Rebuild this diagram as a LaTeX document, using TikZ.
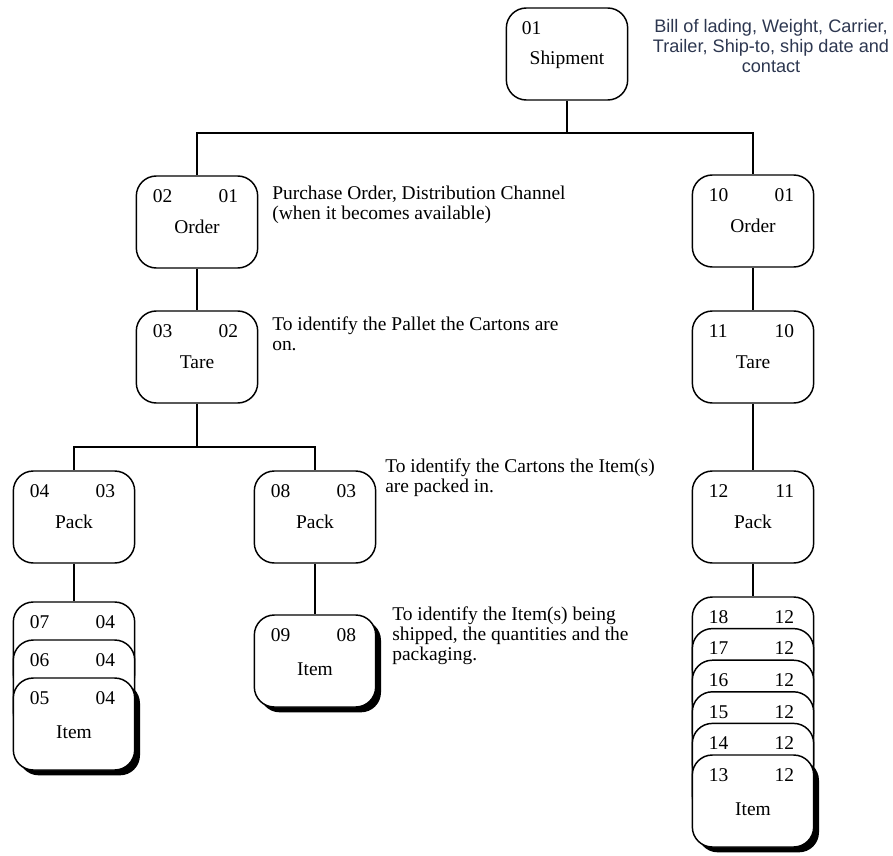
\documentclass[tikz,border=0pt]{standalone}
\usepackage{fontspec}
\setmainfont{Liberation Serif}
\newfontfamily\notesans{Liberation Sans}
\usetikzlibrary{shadows}

\definecolor{notecol}{RGB}{45,55,80}

\tikzset{
  rec/.style={draw, line width=1.1pt, rounded corners=15pt, fill=white,
    minimum width=91pt, minimum height=69pt, inner sep=0pt,
    text height=16.5pt, text depth=0pt},
  itm/.style={rec, text height=22pt,
    general shadow={fill=black, shadow xshift=4pt, shadow yshift=-4pt}},
  num/.style={inner sep=0pt},
  note/.style={align=left, anchor=north west, inner sep=0pt},
  link/.style={line width=1.1pt},
}

% corner numbers of a box
\newcommand{\nums}[3]{%
  \node[num, anchor=base west] (#1-l) at ([shift={(17,27)}]#1.north west) {#2};
  \node[num, anchor=base east] (#1-r) at ([shift={(-20,27)}]#1.north east) {#3};
}

\begin{document}
\begin{tikzpicture}[x=0.75pt, y=-0.75pt, font=\fontsize{14.6}{15}\selectfont]
\useasboundingbox (0,0) rectangle (893,856);

% shipment
\node[rec] (ship) at (567,54) {Shipment};
\node[num, anchor=base west] (ship-l) at ([shift={(16,27)}]ship.north west) {01};
\node[anchor=north, align=center, inner sep=0pt, text=notecol,
  font=\notesans\fontsize{13.6}{15}\selectfont] (shipnote) at (771,19)
  {Bill of lading, Weight, Carrier,\\Trailer, Ship-to, ship date and\\contact};

% orders
\node[rec] (ord1) at (197,222) {Order};
\nums{ord1}{02}{01}
\node[rec] (ord2) at (753,221) {Order};
\nums{ord2}{10}{01}
\node[note] (ordnote) at (272,186) {Purchase Order, Distribution Channel\\(when it becomes available)};

% tares
\node[rec] (tare1) at (197,357) {Tare};
\nums{tare1}{03}{02}
\node[rec] (tare2) at (753,357) {Tare};
\nums{tare2}{11}{10}
\node[note] (tarenote) at (272,317) {To identify the Pallet the Cartons are\\on.};

% packs
\node[rec] (pack1) at (74,517) {Pack};
\nums{pack1}{04}{03}
\node[rec] (pack2) at (315,517) {Pack};
\nums{pack2}{08}{03}
\node[rec] (pack3) at (753,517) {Pack};
\nums{pack3}{12}{11}
\node[note] (packnote) at (385,459) {To identify the Cartons the Item(s)\\are packed in.};

% items
\foreach \n/\t in {07/602,06/640} {
  \node[rec] (it\n) at (74,{\t+46}) {};
  \nums{it\n}{\n}{04}
}
\node[itm] (it05) at (74,724) {Item};
\nums{it05}{05}{04}

\node[itm] (it09) at (315,661) {Item};
\nums{it09}{09}{08}
\node[note] (itemnote) at (392,607) {To identify the Item(s) being\\shipped, the quantities and the\\packaging.};

\foreach \n [count=\k from 0] in {18,17,16,15,14} {
  \node[rec] (it\n) at (753,{597+31.6*\k+46}) {};
  \nums{it\n}{\n}{12}
}
\node[itm] (it13) at (753,801) {Item};
\nums{it13}{13}{12}

% connectors
\coordinate (bus1) at (567,133);
\coordinate (bus2) at (197,447);
\draw[link] (ship) -- (bus1) -| (ord1.north);
\draw[link] (bus1) -| (ord2.north);
\draw[link] (ord1) -- (tare1);
\draw[link] (ord2) -- (tare2);
\draw[link] (tare1) -- (bus2) -| (pack1.north);
\draw[link] (bus2) -| (pack2.north);
\draw[link] (tare2) -- (pack3);
\draw[link] (pack1) -- (it07);
\draw[link] (pack2) -- (it09);
\draw[link] (pack3) -- (it18);
\end{tikzpicture}
\end{document}
